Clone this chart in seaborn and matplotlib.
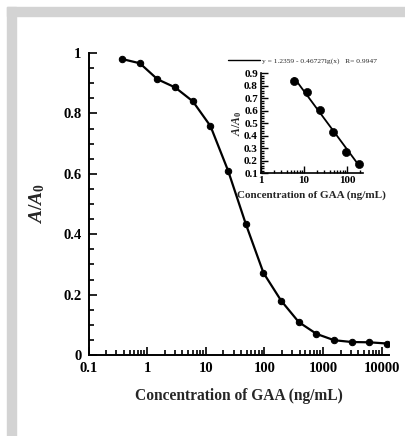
import numpy as np
import pandas as pd
import matplotlib
matplotlib.use("Agg")
import matplotlib.pyplot as plt
from matplotlib.patches import Rectangle
from matplotlib.lines import Line2D
from matplotlib.ticker import FixedLocator, FuncFormatter, LogLocator, MultipleLocator, NullFormatter
import seaborn as sns

# ---- data ----
conc = [0.375, 0.75, 1.5, 3, 6, 12, 24, 48, 96, 192, 384, 768, 1536, 3072, 6144, 12288]
ratio = [0.980, 0.966, 0.913, 0.886, 0.840, 0.758, 0.610, 0.434, 0.272, 0.180,
         0.109, 0.070, 0.049, 0.043, 0.042, 0.038]
inset_conc = [6, 12, 24, 48, 96, 192]
inset_ratio = [0.835, 0.750, 0.605, 0.428, 0.270, 0.174]
x_ticks = [0.1, 1, 10, 100, 1000, 10000]
y_ticks = [0, 0.2, 0.4, 0.6, 0.8, 1]
inset_x_ticks = [1, 10, 100]
inset_y_ticks = [0.1, 0.2, 0.3, 0.4, 0.5, 0.6, 0.7, 0.8, 0.9]
fit_label = "y = 1.2359 - 0.46727lg(x)   R= 0.9947"
x_label = "Concentration of GAA (ng/mL)"
y_label = r"$A/A_0$"

sns.set_theme(style="ticks")
plt.rcParams["font.family"] = ["Liberation Serif", "DejaVu Serif"]
plt.rcParams["font.weight"] = "bold"
plt.rcParams["mathtext.fontset"] = "custom"
plt.rcParams["mathtext.it"] = "Liberation Serif:italic:bold"
plt.rcParams["mathtext.rm"] = "Liberation Serif:bold"
plt.rcParams["mathtext.bf"] = "Liberation Serif:bold"

W, H = 405, 436
fig = plt.figure(figsize=(W / 100, H / 100), dpi=100)
fig.patch.set_facecolor("white")
gray = "#d3d3d3"
# gray frame at top and left
fig.patches.append(Rectangle((7 / W, (H - 16) / H), (W - 7) / W, 9 / H,
                             transform=fig.transFigure, color=gray, zorder=0))
fig.patches.append(Rectangle((7 / W, 0), 9 / W, (H - 7) / H,
                             transform=fig.transFigure, color=gray, zorder=0))

df = pd.DataFrame({"conc": conc, "ratio": ratio})
dfi = pd.DataFrame({"conc": inset_conc, "ratio": inset_ratio})

fmt = FuncFormatter(lambda v, p: "%g" % v)

# ---- main axes ----
ax = fig.add_axes([88.5 / W, (H - 355) / H, 300 / W, 302 / H])
ax.set_xscale("log")
sns.lineplot(data=df, x="conc", y="ratio", ax=ax, color="black", lw=1.6,
             marker="o", markersize=4.6, markeredgecolor="black", sort=True)
ax.set_xlim(0.1, 13000)
ax.set_ylim(0, 1)
ax.xaxis.set_major_locator(FixedLocator(x_ticks))
ax.xaxis.set_major_formatter(fmt)
ax.xaxis.set_minor_locator(LogLocator(base=10, subs=np.arange(2, 10)))
ax.xaxis.set_minor_formatter(NullFormatter())
ax.yaxis.set_major_locator(FixedLocator(y_ticks))
ax.yaxis.set_major_formatter(fmt)
ax.yaxis.set_minor_locator(MultipleLocator(0.05))
ax.tick_params(which="both", direction="in", width=1.2, colors="black", labelsize=10.5)
ax.tick_params(which="major", length=6, pad=5)
ax.tick_params(which="minor", length=3.5)
for lab in ax.get_xticklabels() + ax.get_yticklabels():
    lab.set_fontweight("bold")
sns.despine(ax=ax)
for s in ("left", "bottom"):
    ax.spines[s].set_linewidth(1.4)
    ax.spines[s].set_color("black")
ax.set_xlabel(x_label, fontsize=11.2, fontweight="bold", labelpad=9.5)
ax.set_ylabel(y_label, fontsize=14, labelpad=12)
ax.set_facecolor("none")

# ---- inset ----
axi = fig.add_axes([260.7 / W, (H - 173.3) / H, 102 / W, 100 / H])
axi.set_xscale("log")
sns.regplot(data=dfi, x="conc", y="ratio", ax=axi, logx=True, ci=None,
            scatter=False, color="black", line_kws={"lw": 1.3})
sns.scatterplot(data=dfi, x="conc", y="ratio", ax=axi, color="black", s=34,
                edgecolor="black", zorder=3)
axi.set_xlim(1, 230)
axi.set_ylim(0.1, 0.9)
axi.xaxis.set_major_locator(FixedLocator(inset_x_ticks))
axi.xaxis.set_major_formatter(fmt)
axi.xaxis.set_minor_locator(LogLocator(base=10, subs=np.arange(2, 10)))
axi.xaxis.set_minor_formatter(NullFormatter())
axi.yaxis.set_major_locator(FixedLocator(inset_y_ticks))
axi.yaxis.set_major_formatter(FuncFormatter(lambda v, p: "%.1f" % v))
axi.yaxis.set_minor_locator(MultipleLocator(0.02))
axi.tick_params(which="both", direction="in", width=1.0, colors="black", labelsize=8)
axi.tick_params(which="major", length=5, pad=2)
axi.tick_params(which="minor", length=2.5)
for lab in axi.get_xticklabels() + axi.get_yticklabels():
    lab.set_fontweight("bold")
sns.despine(ax=axi)
for s in ("left", "bottom"):
    axi.spines[s].set_linewidth(1.2)
    axi.spines[s].set_color("black")
axi.set_xlabel(x_label, fontsize=8, fontweight="bold", labelpad=4)
axi.set_ylabel(y_label, fontsize=8.5, labelpad=0)
axi.set_facecolor("none")
handle = Line2D([], [], color="black", lw=1.0)
leg = axi.legend([handle], [fit_label], loc="center left",
                 bbox_to_anchor=(-32.7 / 102, 1.126), frameon=False,
                 prop={"size": 5.4, "weight": "normal"}, handlelength=4.3,
                 handletextpad=0.3, borderpad=0, borderaxespad=0)

fig.savefig("out.png", dpi=100)
